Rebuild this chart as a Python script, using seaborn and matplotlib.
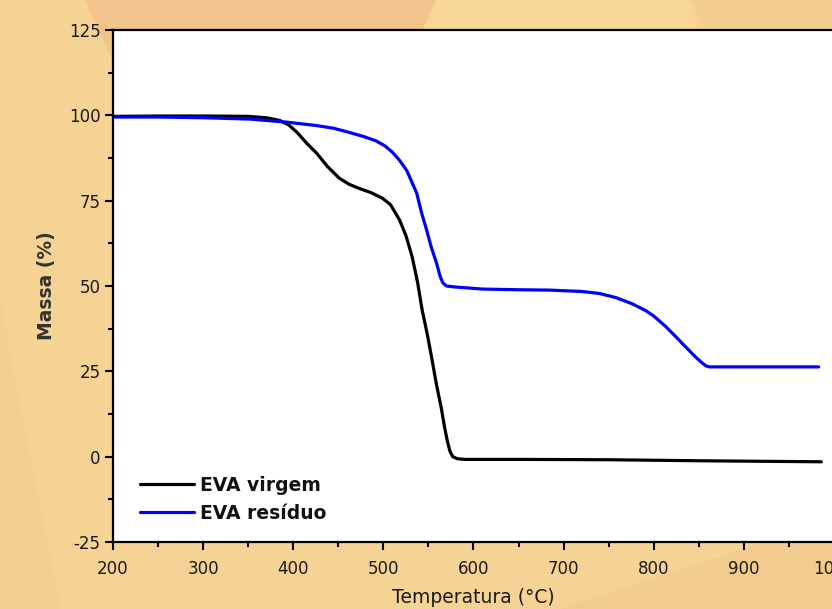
import numpy as np
import pandas as pd
import matplotlib
matplotlib.use("Agg")
import matplotlib.pyplot as plt
from matplotlib.patches import Polygon
from matplotlib.ticker import MultipleLocator
import seaborn as sns

# ---------------- data ----------------
temp_virgem = [200, 250, 300, 350, 370, 385, 395, 405, 415, 426, 438, 451, 462,
               473, 486, 499, 508, 518, 525, 532, 538, 543, 549, 554, 559, 564,
               568, 571, 574, 577, 582, 590, 650, 750, 850, 986]
massa_virgem = [99.7, 99.8, 99.8, 99.7, 99.3, 98.5, 97.2, 94.8, 91.8, 88.9, 85.0,
                81.6, 79.8, 78.6, 77.4, 75.7, 73.8, 69.3, 64.8, 58.5, 51.0, 43.0,
                35.5, 28.4, 21.0, 14.6, 8.5, 4.5, 1.5, 0.0, -0.6, -0.8, -0.8,
                -0.9, -1.2, -1.5]

temp_residuo = [200, 250, 300, 352, 393, 426, 445, 462, 478, 492, 502, 510, 518,
                526, 531, 537, 542, 548, 553, 559, 563, 566, 570, 580, 610, 650,
                684, 720, 740, 758, 776, 791, 800, 813, 825, 836, 846, 853, 858,
                862, 900, 983]
massa_residuo = [99.5, 99.5, 99.3, 98.9, 98.0, 97.0, 96.2, 95.0, 93.8, 92.5, 91.0,
                 89.2, 86.8, 83.8, 80.8, 77.2, 71.8, 66.4, 61.5, 56.7, 52.8, 50.9,
                 50.0, 49.7, 49.1, 48.9, 48.8, 48.4, 47.8, 46.6, 44.8, 42.8, 41.2,
                 38.2, 35.0, 32.0, 29.3, 27.6, 26.6, 26.3, 26.3, 26.3]

series_names = ["EVA virgem", "EVA resíduo"]
series_colors = ["#000000", "#0000FF"]
x_ticks = [200, 300, 400, 500, 600, 700, 800, 900, 1000]
y_ticks = [-25, 0, 25, 50, 75, 100, 125]

# ---------------- style ----------------
sns.set_theme(style="white")
plt.rcParams["font.family"] = ["DejaVu Sans"]
plt.rcParams["axes.unicode_minus"] = False

W, H = 832, 609
fig = plt.figure(figsize=(W / 100, H / 100), dpi=100)
fig.patch.set_facecolor("#F5D394")

# background decorative shapes drawn in a full-figure axes behind the plot
bg = fig.add_axes([0, 0, 1, 1], zorder=-5)
bg.set_xlim(0, W)
bg.set_ylim(H, 0)
bg.axis("off")
bg.patch.set_alpha(0)

def bpoly(pts, color):
    bg.add_patch(Polygon(pts, closed=True, facecolor=color, edgecolor="none"))

bpoly([(85, 0), (436, 0), (380, 120), (140, 120)], "#F0C48A")
bpoly([(436, 0), (690, 0), (700, 40), (420, 40)], "#F6D797")
bpoly([(690, 0), (832, 0), (832, 60), (720, 60)], "#F3CD90")
bpoly([(560, 609), (832, 520), (832, 609)], "#F2CB8E")
bpoly([(0, 300), (60, 609), (0, 609)], "#F4CF92")

ax = fig.add_axes([113 / W, 1 - 542 / H, (834 - 113) / W, (542 - 30) / H],
                  zorder=1)
ax.set_facecolor("white")

for t, m, name, col in zip([temp_virgem, temp_residuo],
                           [massa_virgem, massa_residuo],
                           series_names, series_colors):
    df = pd.DataFrame({"Temperatura": t, "Massa": m})
    sns.lineplot(data=df, x="Temperatura", y="Massa", ax=ax, color=col,
                 linewidth=2.3, label=name, estimator=None, sort=False,
                 solid_joinstyle="round", solid_capstyle="round")

ax.set_xlim(200, 1000)
ax.set_ylim(-25, 125)
ax.set_xticks(x_ticks)
ax.set_yticks(y_ticks)
ax.xaxis.set_minor_locator(MultipleLocator(50))
ax.yaxis.set_minor_locator(MultipleLocator(12.5))

for s in ax.spines.values():
    s.set_color("black")
    s.set_linewidth(1.6)
    s.set_visible(True)

ax.tick_params(axis="both", which="major", direction="out", length=6, width=1.5,
               color="black", labelsize=12, labelcolor="#1a1a1a",
               bottom=True, left=True, top=False, right=False)
ax.tick_params(axis="both", which="minor", direction="out", length=3.5, width=1.5,
               color="black", bottom=True, left=True, top=False, right=False)
ax.tick_params(axis="x", which="major", pad=7)
ax.tick_params(axis="y", which="major", pad=3)

ax.set_xlabel("Temperatura (°C)", fontsize=13.5, color="#1a1a1a", labelpad=7)
ax.set_ylabel("Massa (%)", fontsize=13.5, fontweight="bold", color="#333333",
              labelpad=9)

leg = ax.legend(loc="upper left", frameon=False,
                handlelength=2.9, handletextpad=0.3, labelspacing=0.48,
                borderaxespad=0.0, borderpad=0.0,
                prop={"weight": "bold", "size": 13.5})
for line in leg.get_lines():
    line.set_linewidth(2.3)
for txt in leg.get_texts():
    txt.set_color("#111111")
leg.set_bbox_to_anchor((27 / (834 - 113), (542 - 476) / (542 - 30)),
                       transform=ax.transAxes)

fig.savefig("out.png", dpi=100, facecolor=fig.get_facecolor())
